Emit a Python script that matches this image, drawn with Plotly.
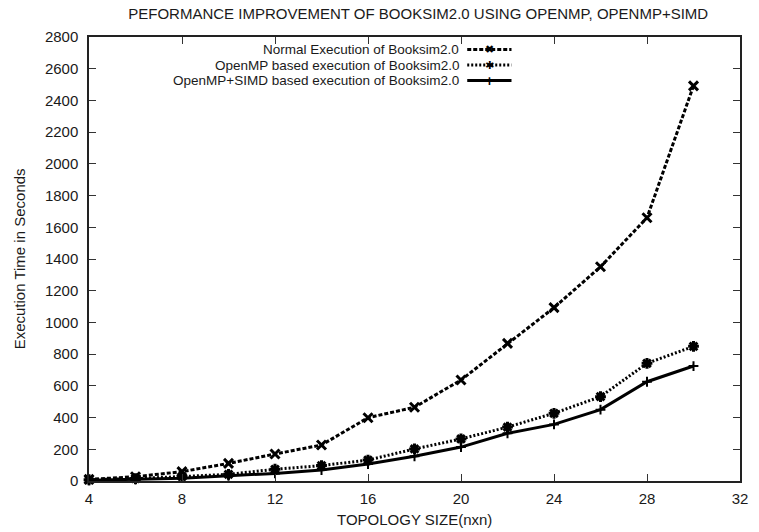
import plotly.graph_objects as go

topology = [4, 6, 8, 10, 12, 14, 16, 18, 20, 22, 24, 26, 28, 30]
normal = [10, 27, 59, 111, 170, 227, 399, 465, 637, 868, 1093, 1351, 1660, 2492]
openmp = [8, 15, 28, 42, 74, 97, 132, 202, 265, 340, 427, 532, 742, 849]
simd = [4, 9, 18, 33, 48, 69, 107, 156, 214, 301, 357, 450, 626, 725]

names = ["Normal Execution of Booksim2.0",
         "OpenMP based execution of Booksim2.0",
         "OpenMP+SIMD based execution of Booksim2.0"]
dashes = ["4px,2px", "2px,2px", "solid"]
symbols = ["x-thin", "asterisk-open", "cross-thin"]
msizes = [9, 9, 7]
mlw = [3, 3, 2]
legend_glyphs = ["✖", "✱", "+"]

FONT = "Liberation Sans, Arial, sans-serif"
INK = "#1a1a1a"
FS = 15

fig = go.Figure()
for name, ys, dash, sym, ms, lw in zip(names, [normal, openmp, simd], dashes, symbols, msizes, mlw):
    fig.add_trace(go.Scatter(
        x=topology, y=ys, name=name, mode="lines+markers",
        line=dict(color="black", width=3, dash=dash),
        marker=dict(symbol=sym, size=ms, color="black", line=dict(color="black", width=lw)),
        cliponaxis=False, showlegend=False,
    ))

# gnuplot-style legend: right-aligned text, sample on the right
rows = [0.9718, 0.9369, 0.902]
for name, dash, y, g in zip(names, dashes, rows, legend_glyphs):
    fig.add_annotation(x=0.5706, y=y, xref="paper", yref="paper", text=name,
                       showarrow=False, xanchor="right", yanchor="middle", borderpad=0,
                       font=dict(family=FONT, size=13.5, color=INK))
    fig.add_shape(type="line", xref="paper", yref="paper", x0=0.581, x1=0.649, y0=y, y1=y,
                  line=dict(color="black", width=3, dash=dash))
    fig.add_annotation(x=0.615, y=y, xref="paper", yref="paper", text="<b>" + g + "</b>",
                       showarrow=False, xanchor="center", yanchor="middle", borderpad=0,
                       font=dict(family="DejaVu Sans", size=11 if g != "+" else 13, color="black"))

fig.add_annotation(x=0.5, y=-0.0878, xref="paper", yref="paper", text="TOPOLOGY SIZE(nxn)",
                   showarrow=False, xanchor="center", yanchor="middle",
                   font=dict(family=FONT, size=FS, color=INK))
fig.add_annotation(x=-0.107, y=0.5, xref="paper", yref="paper", text="Execution Time in Seconds",
                   showarrow=False, textangle=-90, xanchor="center", yanchor="middle",
                   font=dict(family=FONT, size=FS, color=INK))

fig.update_layout(
    width=759, height=532,
    margin=dict(l=89, r=11, t=37, b=51),
    paper_bgcolor="white", plot_bgcolor="white",
    font=dict(family=FONT, size=FS, color=INK),
    title=dict(text="PEFORMANCE IMPROVEMENT OF BOOKSIM2.0 USING OPENMP, OPENMP+SIMD",
               x=0.551, xanchor="center", y=1 - 14 / 532, yanchor="middle",
               font=dict(family=FONT, size=FS, color=INK)),
)
fig.update_xaxes(range=[4, 32], tick0=4, dtick=4, ticks="inside", ticklen=7, tickwidth=1,
                 tickcolor="#333", showline=True, linecolor="#222", linewidth=1.5, mirror="ticks",
                 showgrid=False, zeroline=False, ticklabelstandoff=3)
fig.update_yaxes(range=[0, 2800], tick0=0, dtick=200, ticks="inside", ticklen=7, tickwidth=1,
                 tickcolor="#333", showline=True, linecolor="#222", linewidth=1.5, mirror="ticks",
                 showgrid=False, zeroline=False, ticklabelstandoff=6)

fig.write_html("out.html")
